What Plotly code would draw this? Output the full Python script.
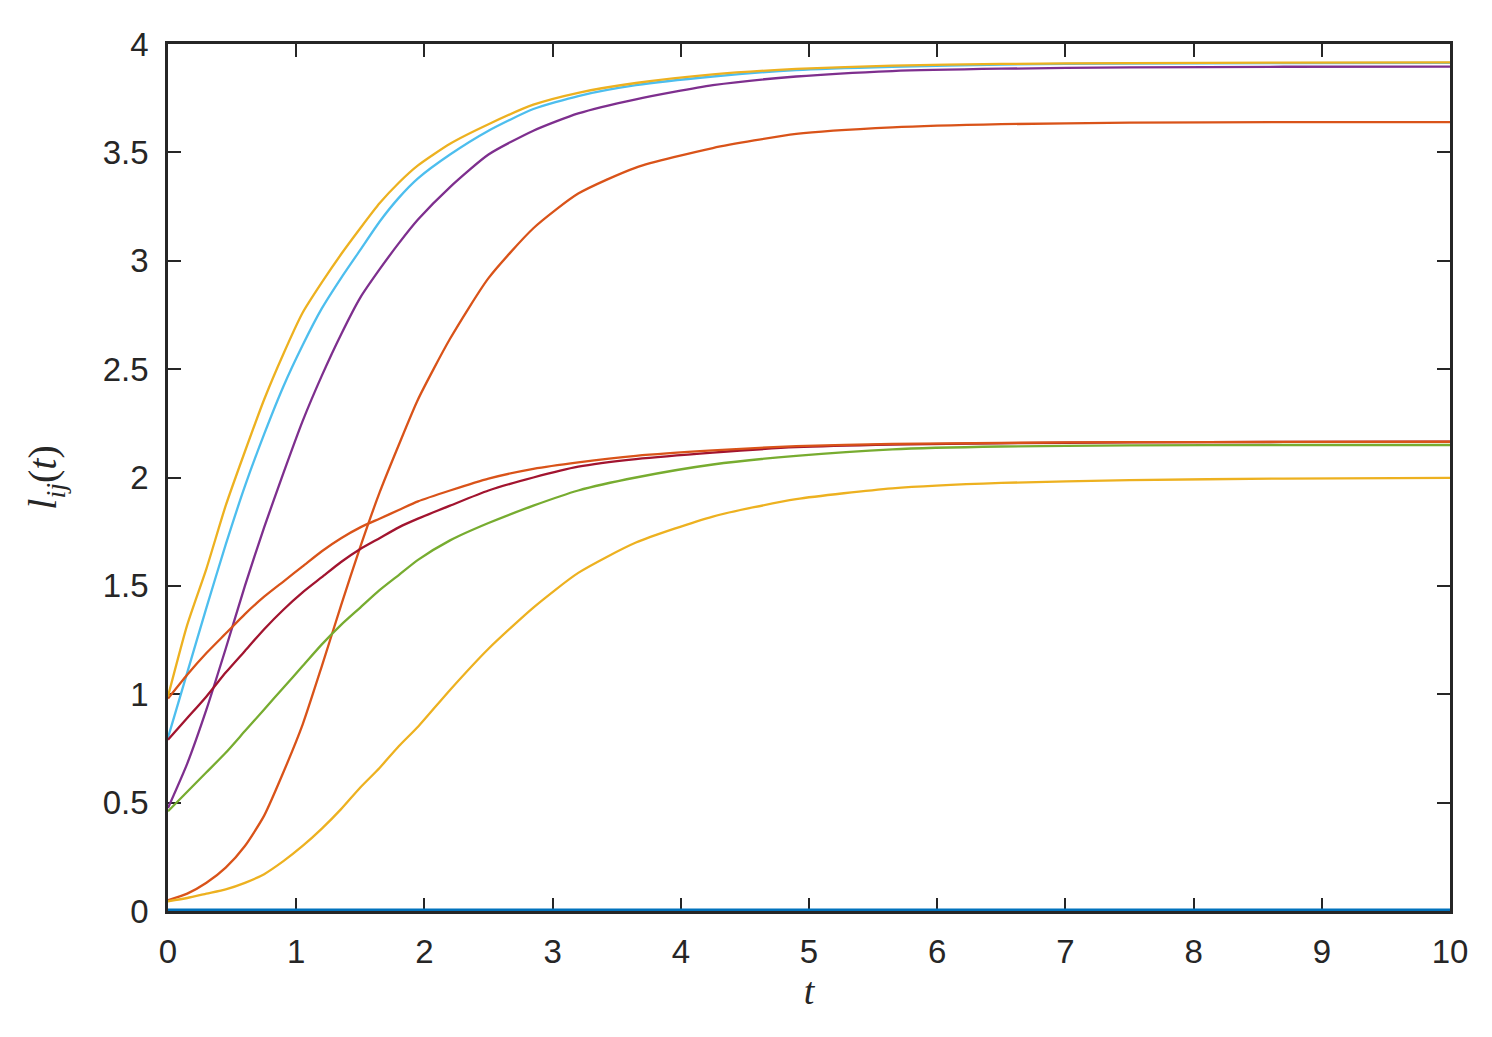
import plotly.graph_objects as go

t = [0, 0.15, 0.3, 0.45, 0.6, 0.75, 0.9, 1.05, 1.2, 1.35, 1.5, 1.65, 1.8, 1.95,
     2.2, 2.5, 2.85, 3.2, 3.65, 4.25, 4.9, 5.65, 6.5, 7.5, 8.7, 10]

l_zero = [0.0] * len(t)
l_steep_orange = [0.05, 0.08, 0.13, 0.20, 0.30, 0.44, 0.64, 0.86, 1.13, 1.41, 1.68, 1.93, 2.15, 2.36,
                  2.64, 2.92, 3.15, 3.31, 3.43, 3.52, 3.585, 3.615, 3.63, 3.637, 3.64, 3.64]
l_top_yellow = [0.99, 1.32, 1.58, 1.87, 2.12, 2.36, 2.57, 2.76, 2.90, 3.03, 3.15, 3.265, 3.36, 3.44,
                3.54, 3.63, 3.72, 3.775, 3.82, 3.86, 3.885, 3.90, 3.908, 3.912, 3.914, 3.915]
l_purple = [0.475, 0.68, 0.93, 1.21, 1.50, 1.77, 2.02, 2.26, 2.47, 2.66, 2.83, 2.96, 3.08, 3.19,
            3.34, 3.49, 3.60, 3.68, 3.745, 3.81, 3.85, 3.875, 3.886, 3.892, 3.895, 3.896]
l_green = [0.46, 0.55, 0.64, 0.73, 0.83, 0.93, 1.03, 1.13, 1.23, 1.32, 1.40, 1.48, 1.55, 1.62,
           1.71, 1.79, 1.87, 1.94, 2.00, 2.06, 2.10, 2.13, 2.143, 2.148, 2.15, 2.15]
l_light_blue = [0.80, 1.10, 1.40, 1.69, 1.96, 2.20, 2.42, 2.61, 2.78, 2.92, 3.05, 3.18, 3.29, 3.38,
                3.49, 3.60, 3.70, 3.76, 3.81, 3.85, 3.88, 3.895, 3.905, 3.91, 3.912, 3.913]
l_dark_red = [0.79, 0.89, 0.99, 1.10, 1.20, 1.30, 1.39, 1.47, 1.54, 1.61, 1.67, 1.72, 1.77, 1.81,
              1.87, 1.94, 2.00, 2.05, 2.085, 2.115, 2.14, 2.152, 2.158, 2.162, 2.164, 2.165]
l_low_orange = [0.98, 1.09, 1.19, 1.28, 1.37, 1.45, 1.52, 1.59, 1.66, 1.72, 1.77, 1.81, 1.85, 1.89,
                1.94, 1.995, 2.04, 2.07, 2.10, 2.125, 2.145, 2.155, 2.16, 2.163, 2.164, 2.165]
l_low_yellow = [0.045, 0.06, 0.08, 0.10, 0.13, 0.17, 0.23, 0.30, 0.38, 0.47, 0.57, 0.66, 0.76, 0.85,
                1.02, 1.21, 1.40, 1.56, 1.70, 1.82, 1.90, 1.95, 1.975, 1.988, 1.995, 1.998]

series = [
    (l_steep_orange, "#D95319", 2.3),
    (l_purple, "#7E2F8E", 2.3),
    (l_green, "#77AC30", 2.3),
    (l_light_blue, "#4DBEEE", 2.3),
    (l_dark_red, "#A2142F", 2.3),
    (l_low_orange, "#D95319", 2.3),
    (l_low_yellow, "#EDB120", 2.3),
    (l_top_yellow, "#EDB120", 2.3),
    (l_zero, "#0072BD", 5),
]

x_ticks = list(range(0, 11))
y_ticks = [0, 0.5, 1, 1.5, 2, 2.5, 3, 3.5, 4]
y_tick_text = ["0", "0.5", "1", "1.5", "2", "2.5", "3", "3.5", "4"]

fig = go.Figure()
for vals, col, w in series:
    fig.add_trace(go.Scatter(x=t, y=vals, mode="lines",
                             line=dict(color=col, width=w, shape="spline", smoothing=0.6),
                             cliponaxis=False, showlegend=False, hoverinfo="skip"))

axis_common = dict(showline=True, linecolor="#262626", linewidth=2.5, mirror="ticks",
                   ticks="inside", ticklen=13, tickwidth=2, tickcolor="#262626",
                   showgrid=False, zeroline=False, layer="below traces",
                   tickfont=dict(family="Liberation Sans, Arial, sans-serif", size=33, color="#262626"))

fig.update_layout(
    width=1492, height=1037,
    margin=dict(l=160, r=50, t=36, b=134),
    paper_bgcolor="white", plot_bgcolor="white",
    xaxis=dict(range=[0, 10], tickvals=x_ticks, ticklabelstandoff=10,
               title=dict(text="<i>t</i>", standoff=6,
                          font=dict(family="Liberation Serif, DejaVu Serif, serif", size=38, color="#262626")),
               **axis_common),
    yaxis=dict(range=[0, 4], tickvals=y_ticks, ticktext=y_tick_text, ticklabelstandoff=10,
               title=dict(text="<i>l<sub>ij</sub></i>(<i>t</i>)", standoff=34,
                          font=dict(family="Liberation Serif, DejaVu Serif, serif", size=40, color="#262626")),
               **axis_common),
)

fig.write_html("out.html")
